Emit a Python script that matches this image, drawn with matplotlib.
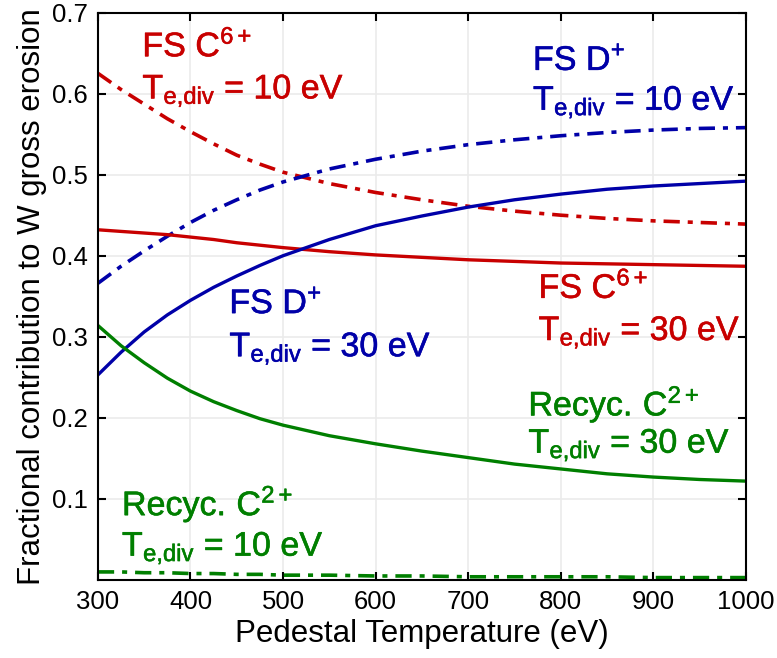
import numpy as np
import matplotlib
matplotlib.use("Agg")
import matplotlib.pyplot as plt
import matplotlib.patheffects as pe

plt.rcParams['font.family'] = ['Liberation Sans', 'DejaVu Sans']
plt.rcParams['mathtext.fontset'] = 'custom'
plt.rcParams['mathtext.rm'] = 'Liberation Sans'
plt.rcParams['mathtext.it'] = 'Liberation Sans'

# temperatura de pedestal (eV)
T_ped = [300, 325, 350, 375, 400, 425, 450, 475, 500, 550, 600, 650, 700, 750, 800,
         850, 900, 950, 1000]

fs_c6_10 = [0.625, 0.605, 0.587, 0.569, 0.553, 0.538, 0.524, 0.513, 0.503, 0.489, 0.478,
            0.469, 0.461, 0.455, 0.450, 0.446, 0.443, 0.441, 0.439]
fs_d_10 = [0.366, 0.387, 0.406, 0.424, 0.441, 0.456, 0.469, 0.481, 0.491, 0.507, 0.519,
           0.529, 0.537, 0.543, 0.548, 0.552, 0.555, 0.557, 0.558]
fs_c6_30 = [0.432, 0.430, 0.428, 0.426, 0.423, 0.420, 0.416, 0.413, 0.410, 0.405, 0.401,
            0.398, 0.395, 0.393, 0.391, 0.390, 0.389, 0.388, 0.387]
fs_d_30 = [0.253, 0.281, 0.306, 0.327, 0.345, 0.361, 0.375, 0.388, 0.400, 0.420, 0.437,
           0.449, 0.460, 0.469, 0.476, 0.482, 0.486, 0.489, 0.492]
rc_c2_30 = [0.314, 0.289, 0.268, 0.249, 0.233, 0.220, 0.209, 0.199, 0.191, 0.178, 0.168,
            0.159, 0.151, 0.143, 0.137, 0.131, 0.127, 0.124, 0.122]
rc_c2_10 = [0.010, 0.010, 0.009, 0.009, 0.008, 0.008, 0.007, 0.007, 0.006, 0.006, 0.005,
            0.005, 0.004, 0.004, 0.004, 0.004, 0.003, 0.003, 0.003]

rojo = "#c80000"
azul = "#0000a8"
verde = "#007f00"
dd = (4.5, 2.2, 1.4, 2.2)  # raya-punto

fig = plt.figure(figsize=(7.77, 6.58), dpi=100)
ax = fig.add_axes([0.126, 0.1185, 0.834, 0.8625])

ax.plot(T_ped, fs_c6_10, color=rojo, lw=2.6, dashes=dd)
ax.plot(T_ped, fs_d_10, color=azul, lw=2.6, dashes=dd)
ax.plot(T_ped, fs_c6_30, color=rojo, lw=2.4)
ax.plot(T_ped, fs_d_30, color=azul, lw=2.4)
ax.plot(T_ped, rc_c2_30, color=verde, lw=2.4)
ax.plot(T_ped, rc_c2_10, color=verde, lw=2.6, dashes=dd)

# etiquetas de cada curva
etiquetas = [
    (348, 0.646, 0.594, r"$\mathregular{FS\ C^{6+}}$", "10", rojo),
    (770, 0.629, 0.580, r"$\mathregular{FS\ D^{+}}$", "10", azul),
    (442, 0.329, 0.276, r"$\mathregular{FS\ D^{+}}$", "30", azul),
    (776, 0.348, 0.296, r"$\mathregular{FS\ C^{6+}}$", "30", rojo),
    (765, 0.203, 0.157, r"$\mathregular{Recyc.\,C^{2+}}$", "30", verde),
    (326, 0.080, 0.030, r"$\mathregular{Recyc.\,C^{2+}}$", "10", verde),
]
for x, y1, y2, t1, te, c in etiquetas:
    grueso = [pe.withStroke(linewidth=0.4, foreground=c)]
    ax.text(x, y1, t1, color=c, fontsize=24.5, va='baseline', ha='left',
            path_effects=grueso)
    ax.text(x, y2, r"$\mathregular{T_{e{,}div}}$ = " + te + " eV", color=c,
            fontsize=24.5, va='baseline', ha='left', path_effects=grueso)

ax.set_xlim(300, 1000)
ax.set_ylim(0, 0.7)
ax.set_xticks(np.arange(300, 1001, 100))
ax.set_yticks([0.1, 0.2, 0.3, 0.4, 0.5, 0.6, 0.7])
ax.tick_params(direction='in', length=6, width=1.5, top=True, right=True,
               labelsize=18.5, pad=7)
ax.grid(color="#ebebeb", lw=1.2)
for s in ax.spines.values():
    s.set_linewidth(1.5)

ax.set_xlabel('Pedestal Temperature (eV)', fontsize=22.5, labelpad=4)
ax.set_ylabel('Fractional contribution to W gross erosion', fontsize=22.5, labelpad=4)

fig.savefig("out.png", dpi=100)
